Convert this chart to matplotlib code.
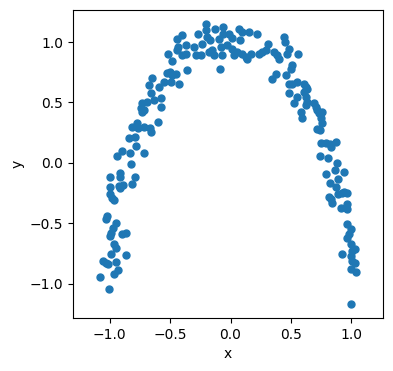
import matplotlib
matplotlib.use("Agg")
import matplotlib.pyplot as plt

# left arm
x_left = [-1.058, -1.033, -1.017, -0.992, -0.950, -0.934, -0.967, -1.083, -1.008, -0.867,
          -0.925, -0.892, -0.817, -0.917, -1.000, -0.983, -0.967, -1.025, -1.033, -0.950,
          -0.975, -0.992, -1.000, -0.900, -0.867, -0.967, -0.950, -1.000, -0.734, -0.776,
          -0.817, -0.768, -0.718, -0.668, -0.660, -0.602, -0.842, -0.793, -0.784, -0.834,
          -0.900, -0.942, -0.718, -0.826, -0.917, -0.917, -1.000, -0.793]
y_left = [-0.809, -0.826, -0.834, -0.751, -0.817, -0.884, -0.917, -0.942, -1.041, -0.759,
          -0.187, -0.178, -0.170, -0.203, -0.253, -0.286, -0.303, -0.436, -0.461, -0.494,
          -0.535, -0.577, -0.602, -0.585, -0.577, -0.668, -0.701, -0.195, 0.419, 0.328,
          0.295, 0.286, 0.295, 0.286, 0.253, 0.336, 0.203, 0.212, 0.137, 0.079,
          0.095, 0.054, 0.079, -0.012, -0.087, -0.112, -0.120, -0.112]

# top of the arc
x_top = [-0.519, -0.485, -0.527, -0.502, -0.485, -0.452, -0.651, -0.676, -0.552, -0.593,
         -0.494, -0.660, -0.577, -0.635, -0.693, -0.734, -0.743, -0.718, -0.577, -0.427,
         -0.361, -0.444, -0.402, -0.436, -0.444, -0.402, -0.369, -0.369, -0.303, -0.286,
         -0.245, -0.270, -0.237, -0.203, -0.203, -0.195, -0.170, -0.154, -0.178, -0.137,
         -0.129, -0.062, -0.062, -0.095, -0.079, -0.071, -0.029, -0.012, 0.012, -0.087,
         0.071, 0.095, 0.154, 0.220, 0.079, 0.012, 0.054, 0.029, 0.095, 0.129,
         0.137, 0.170, 0.237, 0.261, 0.295, 0.311, 0.361, 0.386, 0.402, 0.444,
         0.452, 0.485, 0.469, 0.560, 0.510, 0.502, 0.461, 0.378, 0.344, 0.485,
         0.552, 0.510, 0.610]
y_top = [0.900, 0.842, 0.743, 0.751, 0.726, 0.734, 0.701, 0.643, 0.668, 0.627,
         0.668, 0.577, 0.535, 0.519, 0.502, 0.494, 0.452, 0.436, 0.461, 0.651,
         0.768, 1.025, 1.058, 0.958, 0.934, 0.892, 0.900, 0.975, 0.959, 0.892,
         0.892, 1.066, 0.983, 1.149, 1.100, 1.041, 1.017, 0.934, 0.917, 0.892,
         1.108, 1.124, 1.066, 1.025, 0.959, 0.892, 0.975, 1.066, 1.033, 0.776,
         1.108, 1.083, 1.083, 1.066, 1.017, 0.942, 0.917, 0.892, 0.900, 0.876,
         0.859, 0.900, 0.900, 0.917, 0.934, 0.983, 0.917, 0.892, 0.859, 1.041,
         1.000, 0.942, 0.900, 0.900, 0.809, 0.776, 0.726, 0.734, 0.693, 0.651,
         0.668, 0.651, 0.651]

# right arm
x_right = [0.627, 0.635, 0.610, 0.485, 0.552, 0.527, 0.627, 0.635, 0.627, 0.693,
           0.710, 0.718, 0.759, 0.734, 0.585, 0.593, 0.751, 0.759, 0.718, 0.743,
           0.751, 0.793, 0.826, 0.834, 0.876, 0.743, 0.809, 0.884, 0.867, 0.942,
           0.793, 0.892, 0.826, 0.876, 0.942, 0.959, 0.892, 0.817, 0.834, 0.842,
           0.925, 0.917, 0.959, 0.967, 0.959, 1.000, 0.959, 0.983, 1.000, 1.033,
           0.925, 1.000, 1.008, 1.025, 1.000, 1.008, 1.041, 0.992]
y_right = [0.627, 0.610, 0.585, 0.577, 0.544, 0.494, 0.544, 0.502, 0.477, 0.494,
           0.461, 0.436, 0.419, 0.411, 0.419, 0.369, 0.369, 0.328, 0.278, 0.270,
           0.162, 0.162, 0.154, 0.129, 0.170, 0.054, 0.037, -0.004, -0.054, -0.071,
           -0.095, -0.129, -0.162, -0.195, -0.237, -0.245, -0.253, -0.278, -0.295, -0.328,
           -0.245, -0.369, -0.336, -0.378, -0.502, -0.544, -0.618, -0.585, -0.668, -0.710,
           -0.751, -0.768, -0.809, -0.826, -0.876, -0.726, -0.900, -1.166]

x = x_left + x_top + x_right
y = y_left + y_top + y_right

fig = plt.figure(figsize=(3.93, 3.71), dpi=100)
ax = fig.add_axes([73 / 393, 53 / 371, 310 / 393, 308 / 371])
ax.scatter(x, y, s=25, color="#1f77b4")
ax.set_aspect("equal", adjustable="datalim")
ax.set_xlabel("x")
ax.set_ylabel("y")
fig.savefig("out.png", dpi=100)
